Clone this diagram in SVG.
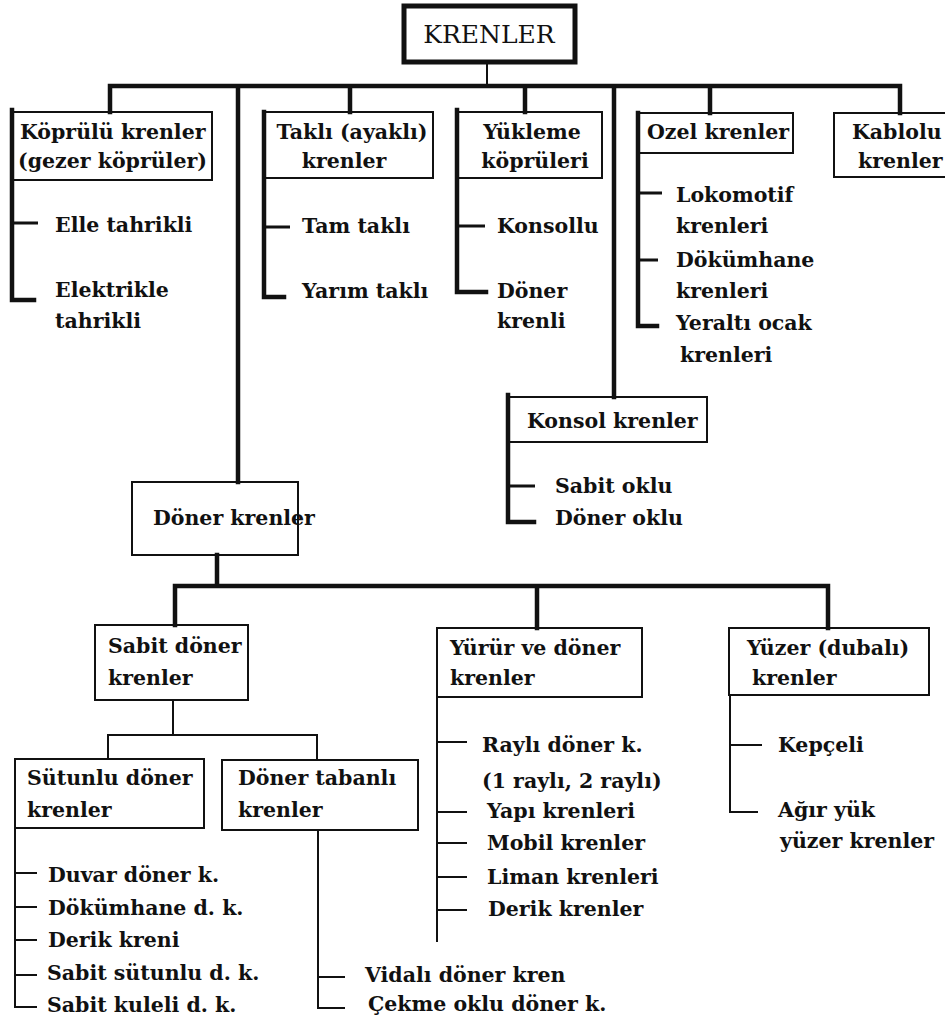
<svg xmlns="http://www.w3.org/2000/svg" width="945" height="1026" viewBox="0 0 945 1026">
<style>
.box{fill:#fff;stroke:#111;stroke-width:2}
.root{fill:#fff;stroke:#111;stroke-width:5}
.k{fill:none;stroke:#111;stroke-width:4.5;stroke-linecap:square}
.m{fill:none;stroke:#111;stroke-width:3}
.n{fill:none;stroke:#111;stroke-width:2}
.t{font-family:"DejaVu Serif","Liberation Serif",serif;font-weight:bold;font-size:20.5px;fill:#111}
.c{text-anchor:middle}
.r{font-family:"DejaVu Serif","Liberation Serif",serif;font-size:25px;fill:#111;text-anchor:middle}
</style>
<rect width="945" height="1026" fill="#fff"/>
<g id="krenler"><rect class="root" x="404" y="6" width="171" height="56"/><text class="r" x="489" y="43">KRENLER</text></g>
<g id="kopruluk"><rect class="box" x="12" y="112" width="200" height="68"/><text class="t" x="20" y="139">Köprülü krenler</text><text class="t" x="18" y="168">(gezer köprüler)</text>
<text class="t" x="55" y="232">Elle tahrikli</text><text class="t" x="55" y="297">Elektrikle</text><text class="t" x="55" y="328">tahrikli</text></g>
<g id="takli"><rect class="box" x="264" y="112" width="169" height="66"/><text class="t c" x="352" y="139">Taklı (ayaklı)</text><text class="t c" x="344" y="168">krenler</text>
<text class="t" x="302" y="233">Tam taklı</text><text class="t" x="302" y="298">Yarım taklı</text></g>
<g id="yukleme"><rect class="box" x="457" y="112" width="145" height="66"/><text class="t c" x="532" y="139">Yükleme</text><text class="t c" x="535" y="168">köprüleri</text>
<text class="t" x="497" y="233">Konsollu</text><text class="t" x="497" y="298">Döner</text><text class="t" x="497" y="328">krenli</text></g>
<g id="ozel"><rect class="box" x="638" y="113" width="155" height="40"/><text class="t" x="647" y="139">Ozel krenler</text>
<text class="t" x="676" y="202">Lokomotif</text><text class="t" x="676" y="233">krenleri</text><text class="t" x="676" y="267">Dökümhane</text><text class="t" x="676" y="298">krenleri</text><text class="t" x="676" y="330">Yeraltı ocak</text><text class="t" x="680" y="362">krenleri</text></g>
<g id="kablolu"><rect class="box" x="834" y="113" width="130" height="64"/><text class="t" x="852" y="139">Kablolu</text><text class="t" x="858" y="168">krenler</text></g>
<g id="konsol"><rect class="box" x="508" y="397" width="199" height="45"/><text class="t" x="527" y="428">Konsol krenler</text>
<text class="t" x="555" y="493">Sabit oklu</text><text class="t" x="555" y="525">Döner oklu</text></g>
<g id="doner"><rect class="box" x="132" y="482" width="166" height="73"/><text class="t" x="153" y="525">Döner krenler</text></g>
<g id="sabit"><rect class="box" x="95" y="625" width="153" height="75"/><text class="t" x="108" y="653">Sabit döner</text><text class="t" x="108" y="685">krenler</text></g>
<g id="yurur"><rect class="box" x="437" y="628" width="205" height="69"/><text class="t" x="450" y="655">Yürür ve döner</text><text class="t" x="450" y="685">krenler</text>
<text class="t" x="482" y="752">Raylı döner k.</text><text class="t" x="482" y="788">(1 raylı, 2 raylı)</text><text class="t" x="487" y="818">Yapı krenleri</text><text class="t" x="487" y="850">Mobil krenler</text><text class="t" x="487" y="884">Liman krenleri</text><text class="t" x="488" y="916">Derik krenler</text></g>
<g id="yuzer"><rect class="box" x="729" y="628" width="200" height="67"/><text class="t" x="747" y="655">Yüzer (dubalı)</text><text class="t" x="752" y="685">krenler</text>
<text class="t" x="778" y="752">Kepçeli</text><text class="t" x="778" y="817">Ağır yük</text><text class="t" x="780" y="848">yüzer krenler</text></g>
<g id="sutunlu"><rect class="box" x="15" y="759" width="189" height="69"/><text class="t" x="27" y="785">Sütunlu döner</text><text class="t" x="27" y="817">krenler</text>
<text class="t" x="48" y="882">Duvar döner k.</text><text class="t" x="48" y="915">Dökümhane d. k.</text><text class="t" x="48" y="947">Derik kreni</text><text class="t" x="47" y="980">Sabit sütunlu d. k.</text><text class="t" x="47" y="1012">Sabit kuleli d. k.</text></g>
<g id="tabanli"><rect class="box" x="222" y="760" width="196" height="70"/><text class="t" x="238" y="785">Döner tabanlı</text><text class="t" x="238" y="817">krenler</text>
<text class="t" x="365" y="982">Vidalı döner kren</text><text class="t" x="368" y="1011">Çekme oklu döner k.</text></g>
<g id="connectors">
<path class="n" d="M487,62V86"/>
<path class="k" d="M110,112V86H900V113M238,86V482M350,86V112M525,86V112M614,86V397M710,86V113"/>
<path class="k" d="M12,110V300H34M264,112V297H284M457,110V292H486M638,113V326H657M508,395V522H534"/>
<path class="m" d="M12,223H38M264,227H290M457,226H485M638,193H662M638,260H658M508,486H535"/>
<path class="k" d="M217,555V586M175,625V586H828V628M537,586V628"/>
<path class="n" d="M173,700V735M108,759V735H317V760"/>
<path class="n" d="M15,828V1007H37M15,873H37M15,907H37M15,940H37M15,975H37"/>
<path class="n" d="M318,830V1008H345M318,977H345"/>
<path class="n" d="M437,697V942M437,742H467M437,812H467M437,843H467M437,877H467M437,910H467"/>
<path class="n" d="M730,695V812H758M730,745H762"/>
</g>
</svg>
